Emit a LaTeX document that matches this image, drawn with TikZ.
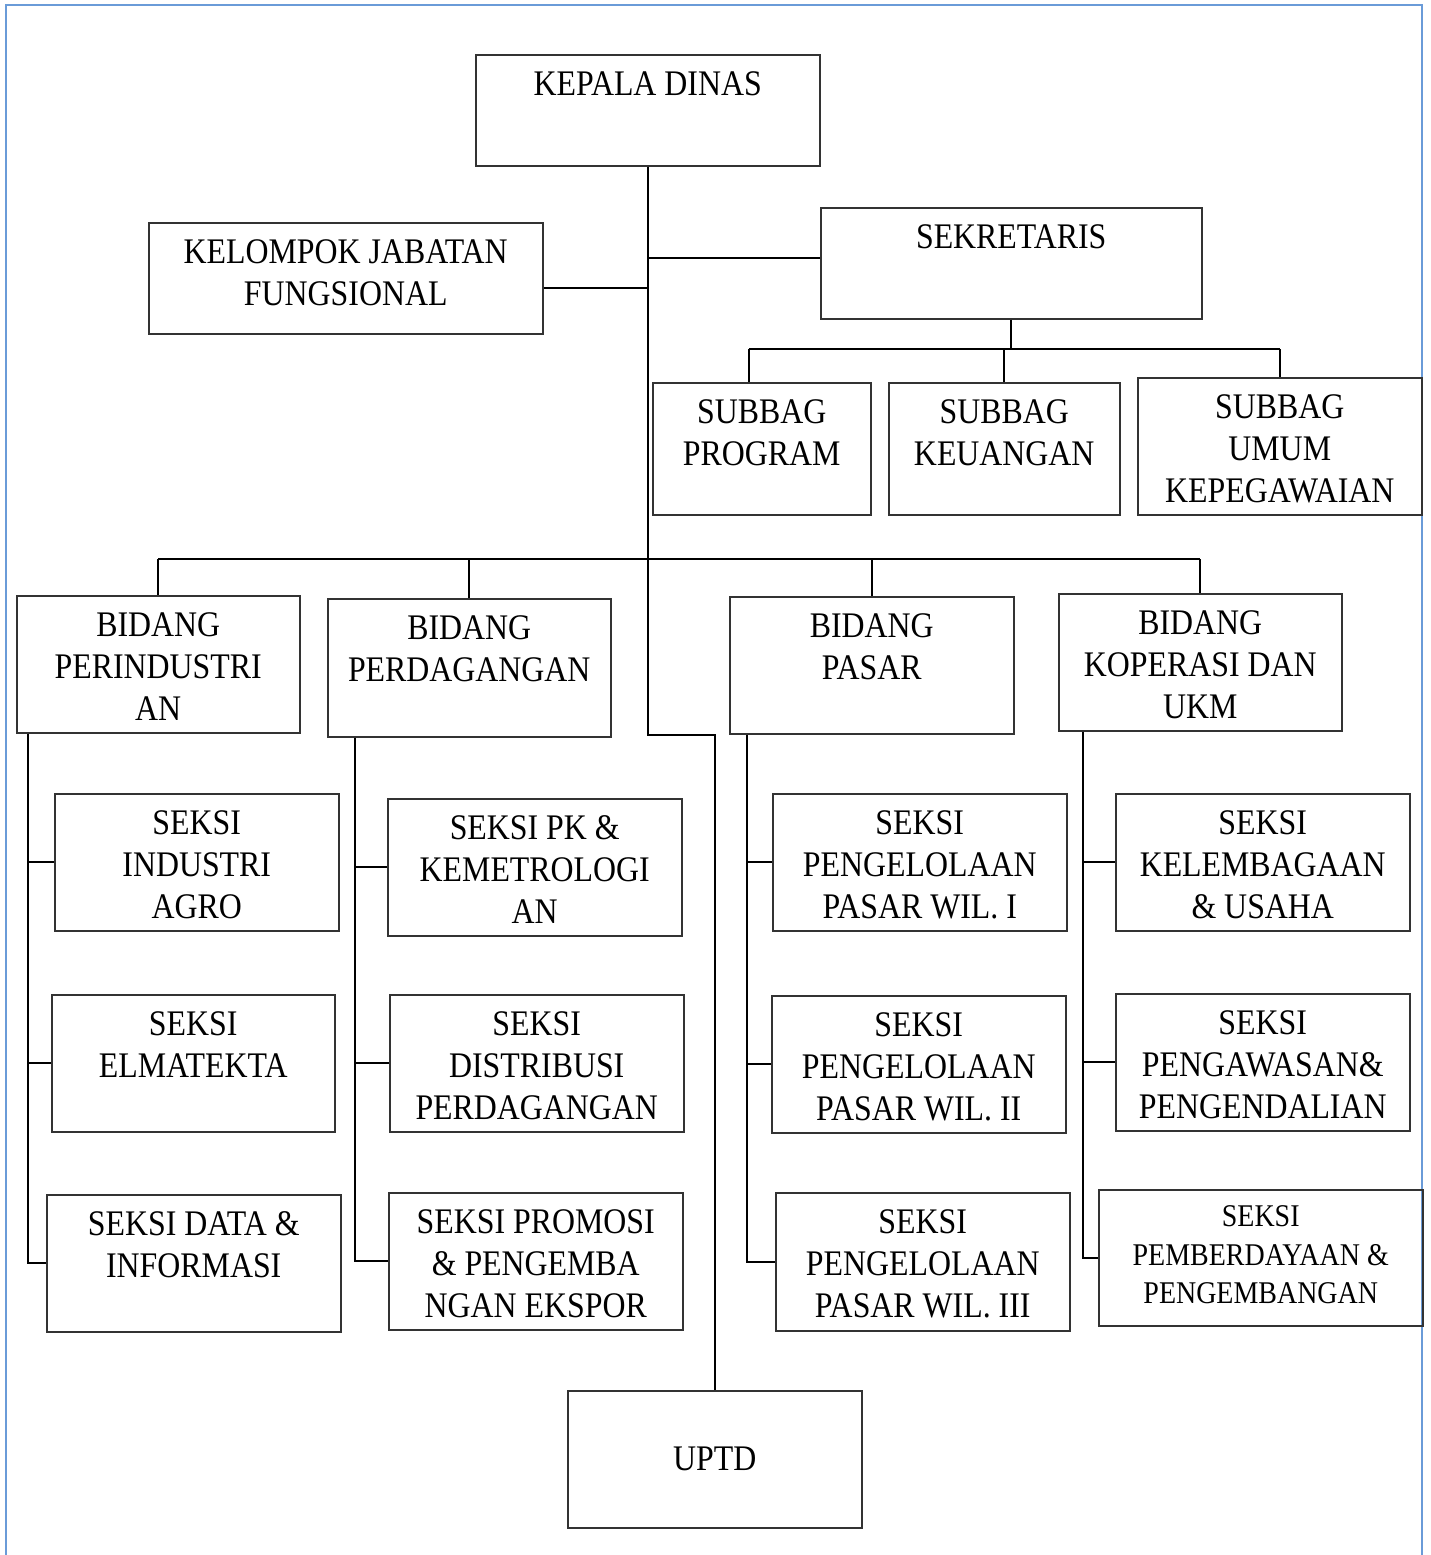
\documentclass[tikz,border=0pt]{standalone}
\usepackage{fontspec}
\setmainfont{Liberation Serif}[FakeStretch=0.885]
\definecolor{pageblue}{RGB}{106,155,216}

\begin{document}
\begin{tikzpicture}[x=0.5pt,y=-0.5pt,font=\fontsize{18}{21}\selectfont,
    % styles
    unit box/.style={draw=black!80,line width=0.75pt,anchor=north west,inner sep=0pt},
    box size/.style 2 args={minimum width=#1*0.5pt,minimum height=#2*0.5pt},
    box text/.style={anchor=north,align=center,inner sep=0pt,yshift=-8.5pt},
    small text/.style={font=\fontsize{15.8}{19.25}\selectfont,yshift=0.25pt},
    link/.style={black,line width=1pt},
    page edge/.style={pageblue,line width=1pt}]

  \useasboundingbox (0,0) rectangle (1431,1555);

  % page border
  \draw[page edge] (6,1555) -- (6,5) -- (1422,5) -- (1422,1555);

  % top level
  \node[unit box,box size={344}{111}] (kadis) at (475,54) {};
  \node[unit box,box size={381}{111}] (sek) at (820,207) {};
  \node[unit box,box size={394}{111}] (kjf) at (148,222) {};
  \node[box text] (kadis-t) at (kadis.north) {KEPALA DINAS};
  \node[box text] (sek-t) at (sek.north) {SEKRETARIS};
  \node[box text] (kjf-t) at (kjf.north) {KELOMPOK JABATAN\\FUNGSIONAL};

  % subbag
  \node[unit box,box size={218}{132}] (sbprog) at (652,382) {};
  \node[unit box,box size={231}{132}] (sbkeu) at (888,382) {};
  \node[unit box,box size={284}{137}] (sbum) at (1137,377) {};
  \node[box text] (sbprog-t) at (sbprog.north) {SUBBAG\\PROGRAM};
  \node[box text] (sbkeu-t) at (sbkeu.north) {SUBBAG\\KEUANGAN};
  \node[box text] (sbum-t) at (sbum.north) {SUBBAG\\UMUM\\KEPEGAWAIAN};

  % bidang
  \node[unit box,box size={283}{137}] (bper) at (16,595) {};
  \node[unit box,box size={283}{138}] (bdag) at (327,598) {};
  \node[unit box,box size={284}{137}] (bpas) at (729,596) {};
  \node[unit box,box size={283}{137}] (bkop) at (1058,593) {};
  \node[box text] (bper-t) at (bper.north) {BIDANG\\PERINDUSTRI\\AN};
  \node[box text] (bdag-t) at (bdag.north) {BIDANG\\PERDAGANGAN};
  \node[box text] (bpas-t) at (bpas.north) {BIDANG\\PASAR};
  \node[box text] (bkop-t) at (bkop.north) {BIDANG\\KOPERASI DAN\\UKM};

  % seksi
  \node[unit box,box size={284}{137}] (sagro) at (54,793) {};
  \node[unit box,box size={283}{137}] (selma) at (51,994) {};
  \node[unit box,box size={294}{137}] (sdata) at (46,1194) {};
  \node[box text] (sagro-t) at (sagro.north) {SEKSI\\INDUSTRI\\AGRO};
  \node[box text] (selma-t) at (selma.north) {SEKSI\\ELMATEKTA};
  \node[box text] (sdata-t) at (sdata.north) {SEKSI DATA \&\\INFORMASI};

  \node[unit box,box size={294}{137}] (spk) at (387,798) {};
  \node[unit box,box size={294}{137}] (sdist) at (389,994) {};
  \node[unit box,box size={294}{137}] (sprom) at (388,1192) {};
  \node[box text] (spk-t) at (spk.north) {SEKSI PK \&\\KEMETROLOGI\\AN};
  \node[box text] (sdist-t) at (sdist.north) {SEKSI\\DISTRIBUSI\\PERDAGANGAN};
  \node[box text] (sprom-t) at (sprom.north) {SEKSI PROMOSI\\\& PENGEMBA\\NGAN EKSPOR};

  \node[unit box,box size={294}{137}] (swil1) at (772,793) {};
  \node[unit box,box size={294}{137}] (swil2) at (771,995) {};
  \node[unit box,box size={294}{138}] (swil3) at (775,1192) {};
  \node[box text] (swil1-t) at (swil1.north) {SEKSI\\PENGELOLAAN\\PASAR WIL. I};
  \node[box text] (swil2-t) at (swil2.north) {SEKSI\\PENGELOLAAN\\PASAR WIL. II};
  \node[box text] (swil3-t) at (swil3.north) {SEKSI\\PENGELOLAAN\\PASAR WIL. III};

  \node[unit box,box size={294}{137}] (slem) at (1115,793) {};
  \node[unit box,box size={294}{137}] (sawas) at (1115,993) {};
  \node[unit box,box size={324}{136}] (sbina) at (1098,1189) {};
  \node[box text] (slem-t) at (slem.north) {SEKSI\\KELEMBAGAAN\\\& USAHA};
  \node[box text] (sawas-t) at (sawas.north) {SEKSI\\PENGAWASAN\&\\PENGENDALIAN};
  \node[box text,small text] (sbina-t) at (sbina.north) {SEKSI\\PEMBERDAYAAN \&\\PENGEMBANGAN};

  % uptd
  \node[unit box,box size={294}{137}] (uptd) at (567,1390) {UPTD};

  % trunk
  \coordinate (sekbus) at (0,349);
  \coordinate (bidbus) at (0,559);
  \coordinate (uptdbend) at (0,735);
  \draw[link] (kadis.south) |- (uptd.north |- uptdbend) -- (uptd.north);
  \draw[link] ([yshift=2.5pt]sek.west) -| (kadis.south);
  \draw[link] ([yshift=-5pt]kjf.east) -| (kadis.south);

  % sekretariat
  \draw[link] (sek.south) -- (sek.south |- sekbus);
  \draw[link] ([xshift=-6.5pt]sbprog.north |- sekbus) -- (sbum.north |- sekbus);
  \draw[link] ([xshift=-6.5pt]sbprog.north |- sekbus) -- ([xshift=-6.5pt]sbprog.north);
  \foreach \n in {sbkeu,sbum}
    \draw[link] (\n.north |- sekbus) -- (\n.north);

  % bidang
  \draw[link] (bper.north |- bidbus) -- (bkop.north |- bidbus);
  \foreach \n in {bper,bdag,bpas,bkop}
    \draw[link] (\n.north |- bidbus) -- (\n.north);

  % seksi
  \foreach \bid/\sh/\first/\second/\lastsek in {bper/6pt/sagro/selma/sdata,
      bdag/14pt/spk/sdist/sprom, bpas/9pt/swil1/swil2/swil3,
      bkop/12.5pt/slem/sawas/sbina} {
    \coordinate (\bid-spine) at ([xshift=\sh]\bid.south west);
    \draw[link] (\bid-spine) |- (\lastsek.west);
    \foreach \n in {\first,\second}
      \draw[link] (\bid-spine |- \n.west) -- (\n.west);
  }
\end{tikzpicture}
\end{document}
